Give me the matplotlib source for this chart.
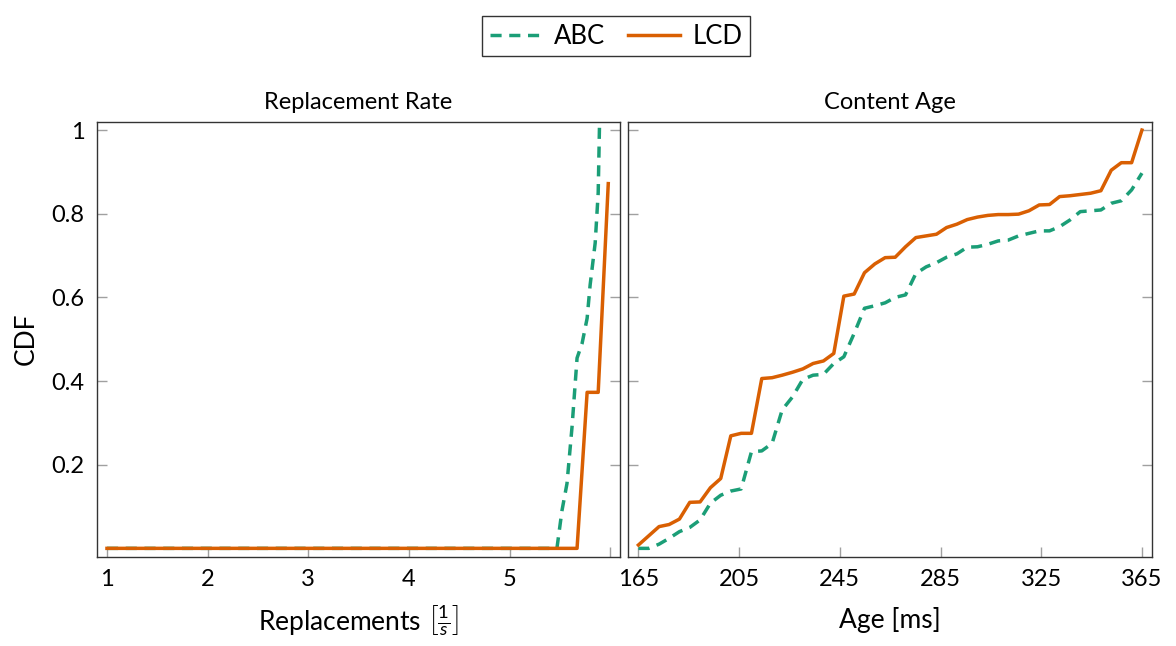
import numpy as np
import matplotlib.pyplot as plt

plt.rcParams['font.family'] = ['Lato', 'DejaVu Sans']
plt.rcParams['mathtext.fontset'] = 'custom'
plt.rcParams['mathtext.rm'] = 'Lato'
plt.rcParams['mathtext.it'] = 'Lato:italic'

GREEN = '#1b9e77'
ORANGE = '#d95f02'

# replacement rate CDF
rate_abc_x = [1.0, 5.47, 5.52, 5.57, 5.62, 5.67, 5.72, 5.77, 5.80, 5.85, 5.88, 5.90]
rate_abc_y = [0.0, 0.0, 0.09, 0.155, 0.29, 0.455, 0.49, 0.55, 0.63, 0.73, 0.85, 1.10]
rate_lcd_x = [1.0, 5.67, 5.77, 5.88, 5.98]
rate_lcd_y = [0.0, 0.0, 0.373, 0.373, 0.872]

# content age CDF
age_ms = [165.0, 169.1, 173.2, 177.2, 181.3, 185.4, 189.5, 193.6, 197.7, 201.7,
          205.8, 209.9, 214.0, 218.1, 222.1, 226.2, 230.3, 234.4, 238.5, 242.6,
          246.6, 250.7, 254.8, 258.9, 263.0, 267.0, 271.1, 275.2, 279.3, 283.4,
          287.4, 291.5, 295.6, 299.7, 303.8, 307.9, 311.9, 316.0, 320.1, 324.2,
          328.3, 332.3, 336.4, 340.5, 344.6, 348.7, 352.8, 356.8, 360.9, 365.0]
age_abc = [0.0, 0.0, 0.01, 0.024, 0.040, 0.050, 0.068, 0.108, 0.127, 0.137,
           0.142, 0.231, 0.233, 0.251, 0.331, 0.362, 0.404, 0.414, 0.416, 0.442,
           0.458, 0.514, 0.574, 0.580, 0.587, 0.600, 0.606, 0.657, 0.673, 0.683,
           0.696, 0.704, 0.720, 0.721, 0.727, 0.735, 0.737, 0.747, 0.753, 0.759,
           0.759, 0.769, 0.785, 0.805, 0.807, 0.809, 0.825, 0.831, 0.857, 0.897]
age_lcd = [0.008, 0.03, 0.052, 0.057, 0.070, 0.110, 0.111, 0.145, 0.167, 0.269,
           0.275, 0.275, 0.406, 0.408, 0.414, 0.421, 0.429, 0.442, 0.448, 0.466,
           0.603, 0.608, 0.659, 0.680, 0.695, 0.696, 0.721, 0.743, 0.747, 0.751,
           0.767, 0.775, 0.786, 0.792, 0.796, 0.798, 0.798, 0.799, 0.807, 0.821,
           0.822, 0.841, 0.843, 0.846, 0.849, 0.855, 0.904, 0.922, 0.922, 1.0]

cdf_ticks = [0.2, 0.4, 0.6, 0.8, 1.0]
cdf_labels = ['0.2', '0.4', '0.6', '0.8', '1']
rate_ticks = [1, 2, 3, 4, 5, 6]
rate_labels = ['1', '2', '3', '4', '5', '']
age_ticks = [165, 205, 245, 285, 325, 365]

fig = plt.figure(figsize=(11.76, 6.46), dpi=100)
ax1 = fig.add_axes([0.0824, 0.1382, 0.4451, 0.6734])
ax2 = fig.add_axes([0.5343, 0.1382, 0.4453, 0.6734])

dash = dict(color=GREEN, lw=2.5, linestyle=(0, (3.2, 2.2)))
solid = dict(color=ORANGE, lw=2.5)

ax1.plot(rate_abc_x, rate_abc_y, label='ABC', **dash)
ax1.plot(rate_lcd_x, rate_lcd_y, label='LCD', **solid)
ax2.plot(age_ms, age_abc, **dash)
ax2.plot(age_ms, age_lcd, **solid)

for ax in (ax1, ax2):
    ax.set_ylim(-0.02, 1.02)
    ax.set_yticks(cdf_ticks)
    ax.tick_params(axis='both', direction='in', length=7, width=1,
                   color='#a0a0a0', labelsize=17, pad=9)
    ax.tick_params(axis='y', left=True, right=True)
    ax.tick_params(axis='x', top=False)
    for s in ax.spines.values():
        s.set_linewidth(1.0)
        s.set_color('#333333')

ax1.set_xlim(0.9, 6.1)
ax1.set_xticks(rate_ticks)
ax1.set_xticklabels(rate_labels)
ax1.set_yticklabels(cdf_labels)
ax1.set_ylabel('CDF', fontsize=19, labelpad=9)
ax1.set_xlabel(r'Replacements $\left[\frac{1}{s}\right]$', fontsize=19, labelpad=9)
ax1.set_title('Replacement Rate', fontsize=17, pad=9)

ax2.set_xlim(161, 369)
ax2.set_xticks(age_ticks)
ax2.set_yticklabels([])
ax2.set_xlabel('Age [ms]', fontsize=19, labelpad=12)
ax2.set_title('Content Age', fontsize=17, pad=9)

fig.legend(loc='upper center', bbox_to_anchor=(0.524, 0.995), ncol=2,
           fontsize=18.5, frameon=True, fancybox=False, edgecolor='black',
           handlelength=2.0, columnspacing=0.9, handletextpad=0.5,
           borderpad=0.3)

plt.savefig('out.png', dpi=100)
